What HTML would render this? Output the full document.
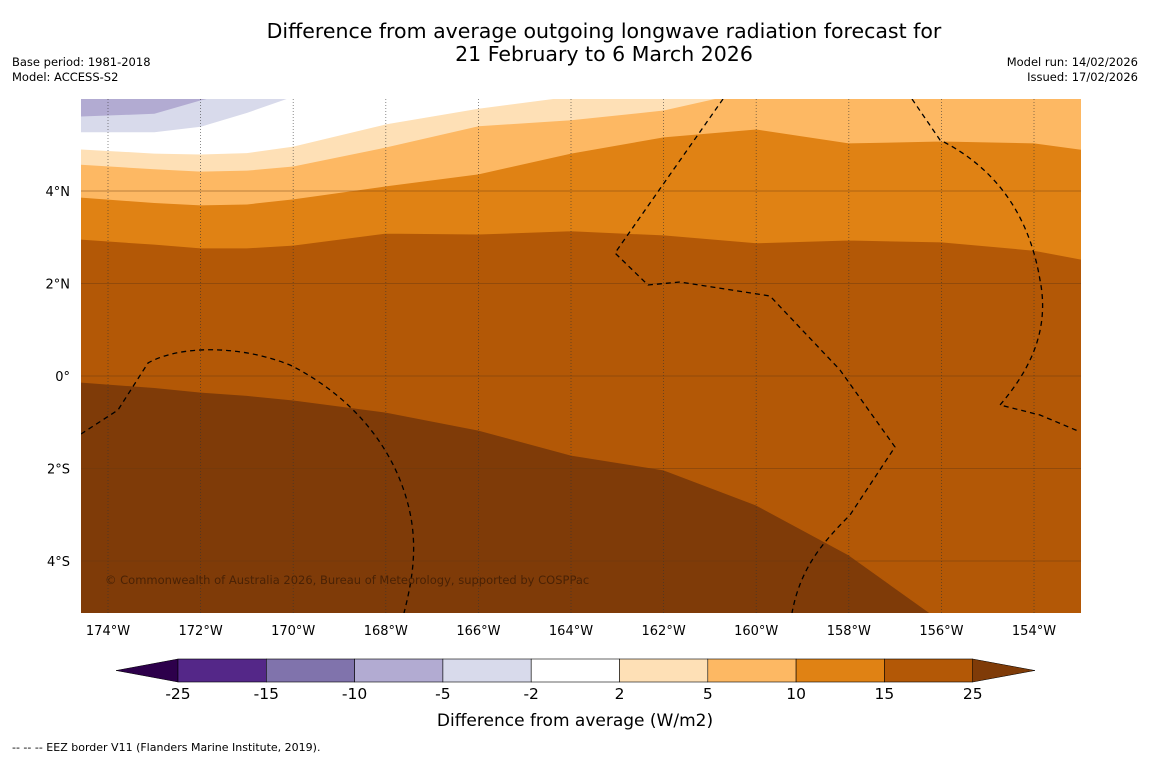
<!DOCTYPE html>
<html><head><meta charset="utf-8"><style>
body{margin:0;background:#fff;width:1150px;height:758px;overflow:hidden;font-family:"DejaVu Sans","Liberation Sans",sans-serif}
svg{position:absolute;left:0;top:0}
</style></head><body>
<svg id="c" width="1150" height="758">
<text x="604" y="38" text-anchor="middle" font-size="20.5" fill="#000">Difference from average outgoing longwave radiation forecast for</text>
<text x="604" y="61" text-anchor="middle" font-size="20.5" fill="#000">21 February to 6 March 2026</text>
<text x="12" y="66" font-size="11.5">Base period: 1981-2018</text>
<text x="12" y="81" font-size="11.5">Model: ACCESS-S2</text>
<text x="1138" y="66" font-size="11.5" text-anchor="end">Model run: 14/02/2026</text>
<text x="1138" y="81" font-size="11.5" text-anchor="end">Issued: 17/02/2026</text>
<defs><clipPath id="mc"><rect x="81" y="99" width="1000" height="514"/></clipPath></defs>
<g id="map" clip-path="url(#mc)"></g>
<g id="axes"></g>
<g id="cbar"></g>
<text x="575" y="726" text-anchor="middle" font-size="17">Difference from average (W/m2)</text>
<text x="12" y="751" font-size="11">--  --  -- EEZ border V11 (Flanders Marine Institute, 2019).</text>
</svg>
<script>
const gridLons=[-174.6,-173,-172,-171,-170,-168,-166,-164,-162,-160,-158,-156,-154,-152.9];
const b25=[-0.13,-0.25,-0.35,-0.42,-0.52,-0.78,-1.17,-1.71,-2.03,-2.79,-3.87,-5.3,-5.5,-5.5];
const b15=[2.96,2.85,2.77,2.77,2.83,3.09,3.07,3.14,3.05,2.88,2.94,2.90,2.72,2.51];
const b10=[3.87,3.75,3.70,3.72,3.83,4.11,4.37,4.82,5.17,5.34,5.04,5.08,5.04,4.89];
const b5=[4.58,4.48,4.43,4.45,4.54,4.95,5.41,5.54,5.75,6.2,6.2,6.2,6.2,6.2];
const b2=[4.91,4.82,4.80,4.83,4.97,5.45,5.79,6.05,6.2,6.2,6.2,6.2,6.2,6.2];
const bm2=[5.28,5.28,5.40,5.70,6.05,6.2,6.2,6.2,6.2,6.2,6.2,6.2,6.2,6.2];
const bm5=[5.62,5.68,5.97,6.2,6.2,6.2,6.2,6.2,6.2,6.2,6.2,6.2,6.2,6.2];
const levels=["-25","-15","-10","-5","-2","2","5","10","15","25"];
const colors=["#542788","#8073ac","#b2abd2","#d8daeb","#ffffff","#fee0b6","#fdb863","#e08214","#b35806"];
const xTicks=[-174,-172,-170,-168,-166,-164,-162,-160,-158,-156,-154];
const yTicks=[4,2,0,-2,-4];
const NS="http://www.w3.org/2000/svg";
const X=lon=>108+(lon+174)*46.3;
const Y=lat=>376-lat*46.25;
function el(tag,parent,attrs){const e=document.createElementNS(NS,tag);for(const k in attrs)e.setAttribute(k,attrs[k]);parent.appendChild(e);return e;}
const map=document.getElementById('map'),axes=document.getElementById('axes'),cb=document.getElementById('cbar');
let r=el('rect',map,{x:81,y:99,width:1000,height:514,fill:'#7f3b08'});


const bands=[[b25,'#b35806','band-15-25'],[b15,'#e08214','band-10-15'],[b10,'#fdb863','band-5-10'],[b5,'#fee0b6','band-2-5'],[b2,'#ffffff','band-neutral'],[bm2,'#d8daeb','band-minus5-minus2'],[bm5,'#b2abd2','band-minus10-minus5']];
bands.forEach(([b,c,n])=>{
  let pts=gridLons.map((lo,i)=>X(lo)+','+Y(b[i]));
  pts.push(X(-152.9)+','+(90),X(-174.6)+','+90);
  const p=el('polygon',map,{points:pts.join(' '),fill:c,stroke:c,'stroke-width':1});
  
  
});
xTicks.forEach(lo=>{
  const l=el('line',map,{x1:X(lo),x2:X(lo),y1:99,y2:613,stroke:'#333','stroke-width':0.8,'stroke-dasharray':'1,2',opacity:0.7});
  
  
  const t=el('text',axes,{x:X(lo),y:635,'text-anchor':'middle','font-size':13});
  t.textContent=Math.abs(lo)+'°W';
  
  
});
yTicks.forEach(la=>{
  const l=el('line',map,{x1:81,x2:1081,y1:Y(la),y2:Y(la),stroke:'#6b3a10','stroke-width':0.8,opacity:0.6});
  
  
  const t=el('text',axes,{x:70,y:Y(la)+5,'text-anchor':'end','font-size':13});
  t.textContent=la===0?'0°':Math.abs(la)+'°'+(la>0?'N':'S');
  
  
});
["M81,434 L118,410 L148,363 C180,345 240,345 290,365 C340,390 380,430 400,480 C420,530 415,570 404,613",
 "M723,99 L615,253 L648,285 L680,282 L770,296 L840,370 L895,447 L850,515 C820,545 800,570 792,613",
 "M912,99 L940,140 C1000,170 1030,220 1040,280 C1050,330 1030,370 1000,405 L1040,415 L1078,431"].forEach(d=>{
  const p=el('path',map,{d:d,fill:'none',stroke:'#000','stroke-width':1.3,'stroke-dasharray':'5,4'});
  
  
});
let cr=el('text',map,{x:105,y:584,'font-size':11.5,fill:'#4a2205'});
cr.textContent='© Commonwealth of Australia 2026, Bureau of Meteorology, supported by COSPPac';


const cx0=178,cw=88.3,cy=659,ch=23;
let lt=el('polygon',cb,{points:`${cx0},${cy} ${cx0},${cy+ch} 116,${cy+ch/2}`,fill:'#2d004b',stroke:'#000','stroke-width':0.5});


colors.forEach((c,i)=>{
  const rr=el('rect',cb,{x:cx0+i*cw,y:cy,width:cw,height:ch,fill:c,stroke:'#000','stroke-width':0.6});
  
  
});
const xe=cx0+colors.length*cw;
let rt=el('polygon',cb,{points:`${xe},${cy} ${xe},${cy+ch} 1035,${cy+ch/2}`,fill:'#7f3b08',stroke:'#000','stroke-width':0.5});


levels.forEach((v,i)=>{
  const t=el('text',cb,{x:cx0+i*cw,y:699,'text-anchor':'middle','font-size':15.5});
  t.textContent=v;
  
  
});
</script>
</body></html>
